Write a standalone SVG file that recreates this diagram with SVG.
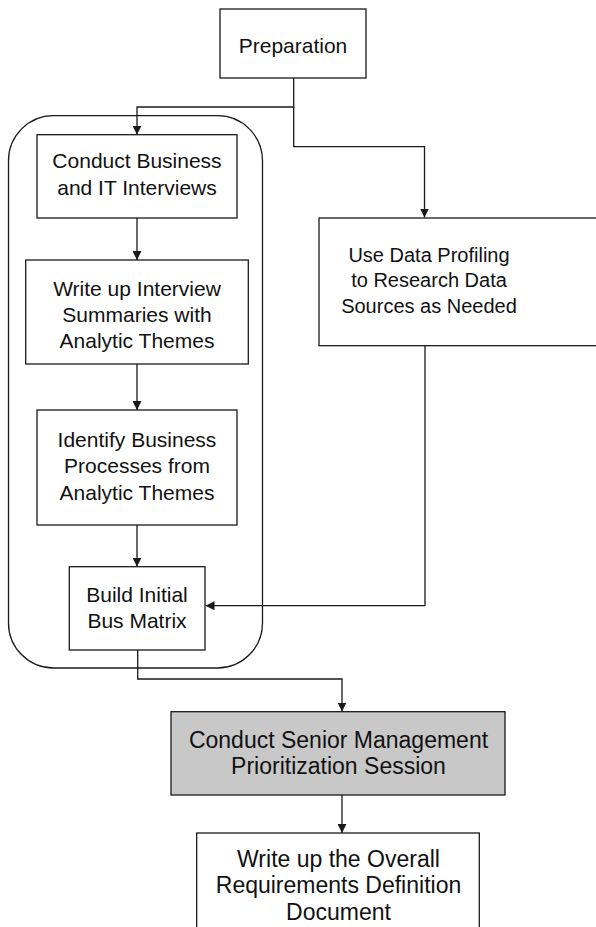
<svg xmlns="http://www.w3.org/2000/svg" width="596" height="927" viewBox="0 0 596 927">
<style>
  .box { fill: #ffffff; stroke: #1a1a1a; stroke-width: 1.3; }
  .grey { fill: #c8c8c8; stroke: #1a1a1a; stroke-width: 1.3; }
  .group { fill: none; stroke: #1a1a1a; stroke-width: 1.3; }
  .conn { fill: none; stroke: #1a1a1a; stroke-width: 1.3; }
  text { font-family: "Liberation Sans", Arial, sans-serif; fill: #111; text-anchor: middle; }
  .t21 { font-size: 21px; }
  .t20 { font-size: 20px; }
  .t23 { font-size: 23px; }
</style>
<defs>
  <marker id="arr" viewBox="0 0 10 10" refX="10" refY="5" markerWidth="9" markerHeight="9" markerUnits="userSpaceOnUse" orient="auto">
    <path d="M0,0 L10,5 L0,10 z" fill="#1a1a1a"/>
  </marker>
</defs>
<rect width="596" height="927" fill="#ffffff"/>

<g id="container">
  <rect class="group" x="8.5" y="115.7" width="254" height="552.3" rx="45" ry="45"/>
</g>

<g id="connectors">
  <path class="conn" d="M293.7,78 V107 H137 V134.7" marker-end="url(#arr)"/>
  <path class="conn" d="M293.7,107 V146.7 H424.5 V217.5" marker-end="url(#arr)"/>
  <path class="conn" d="M137,218 V260" marker-end="url(#arr)"/>
  <path class="conn" d="M137,364 V410" marker-end="url(#arr)"/>
  <path class="conn" d="M137,525 V566.7" marker-end="url(#arr)"/>
  <path class="conn" d="M425,345.7 V605.7 H205.5" marker-end="url(#arr)"/>
  <path class="conn" d="M137.7,650 V679 H342 V711.5" marker-end="url(#arr)"/>
  <path class="conn" d="M342,795 V833" marker-end="url(#arr)"/>
</g>

<g id="preparation">
  <rect class="box" x="220" y="9" width="146" height="69"/>
  <text class="t21" x="293" y="53">Preparation</text>
</g>

<g id="conduct-interviews">
  <rect class="box" x="37" y="134.7" width="200" height="83.3"/>
  <text class="t21" x="137" y="168">Conduct Business</text>
  <text class="t21" x="137" y="195">and IT Interviews</text>
</g>

<g id="write-summaries">
  <rect class="box" x="25.7" y="260" width="222.6" height="104"/>
  <text class="t21" x="137" y="296">Write up Interview</text>
  <text class="t21" x="137" y="322">Summaries with</text>
  <text class="t21" x="137" y="348">Analytic Themes</text>
</g>

<g id="identify-processes">
  <rect class="box" x="37" y="410" width="200" height="115"/>
  <text class="t21" x="137" y="447">Identify Business</text>
  <text class="t21" x="137" y="473">Processes from</text>
  <text class="t21" x="137" y="500">Analytic Themes</text>
</g>

<g id="build-bus-matrix">
  <rect class="box" x="69.3" y="566.7" width="135.7" height="83.3"/>
  <text class="t21" x="137" y="601.7">Build Initial</text>
  <text class="t21" x="137" y="627.7">Bus Matrix</text>
</g>

<g id="data-profiling">
  <rect class="box" x="319" y="218" width="290" height="127.7"/>
  <text class="t20" x="429" y="261.7">Use Data Profiling</text>
  <text class="t20" x="429" y="286.7">to Research Data</text>
  <text class="t20" x="429" y="313">Sources as Needed</text>
</g>

<g id="senior-session">
  <rect class="grey" x="171" y="711.7" width="334" height="83.3"/>
  <text class="t23" x="338.5" y="748">Conduct Senior Management</text>
  <text class="t23" x="338.5" y="774.3">Prioritization Session</text>
</g>

<g id="requirements-document">
  <rect class="box" x="196.7" y="833" width="282.6" height="110"/>
  <text class="t23" x="338.5" y="866.7">Write up the Overall</text>
  <text class="t23" x="338.5" y="893">Requirements Definition</text>
  <text class="t23" x="338.5" y="920">Document</text>
</g>
</svg>
